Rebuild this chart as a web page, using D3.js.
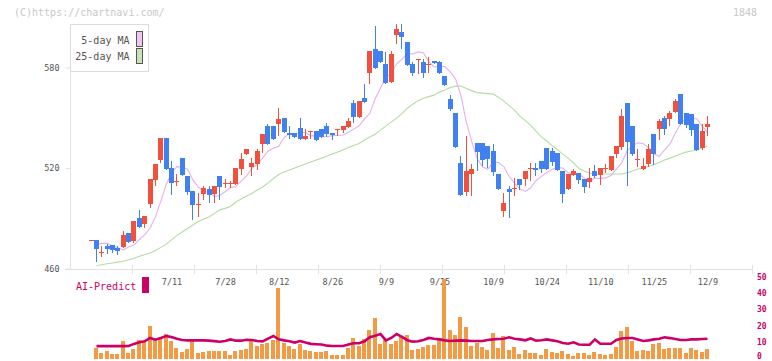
<!DOCTYPE html>
<html><head><meta charset="utf-8">
<script src="https://cdn.jsdelivr.net/npm/d3@7"></script>
<style>
html,body{margin:0;padding:0;background:#fff;}
svg{display:block;}
text{font-family:"DejaVu Sans Mono","Liberation Mono",monospace;}
</style></head><body>
<svg id="c" width="772" height="361"></svg>
<script>
// ---- data (index 0 = 7/11; first candle is index -15) ----
const firstIndex = -15;
const tickIndex = [0,10,20,30,40,50,60,70,80,90,100];
const tickLabels = ["7/11","7/28","8/12","8/26","9/9","9/25","10/9","10/24","11/10","11/25","12/9"];
const priceTicks = [460,520,580];
const volTicks = [0,10,20,30,40,50];

const open = [477.1,477.1,470.0,473.5,474.1,472.5,473.1,481.1,476.7,490.0,
486.8,498.7,512.8,524.8,537.9,520.0,512.0,525.9,515.2,506.3,
498.7,504.5,507.5,504.5,515.2,510.3,511.2,510.6,519.4,528.3,
520.6,522.4,534.3,545.0,545.0,546.2,549.8,540.8,540.8,543.8,
537.3,542.0,542.0,543.2,545.0,540.8,543.2,542.6,544.4,558.7,
550.3,561.7,576.6,590.9,589.7,582.0,571.2,599.2,601.0,595.1,
582.0,585.0,583.2,582.0,583.8,583.2,574.8,561.0,552.7,523.0,
505.7,516.4,534.9,534.9,533.0,530.1,516.4,494.4,507.5,508.0,
513.4,513.4,520.0,520.0,524.2,531.9,530.1,528.9,518.2,507.5,
515.8,517.0,513.4,511.6,518.2,515.8,520.0,518.8,528.3,532.4,
558.7,545.0,525.3,519.4,522.4,540.2,543.2,549.8,549.2,553.4,
564.1,552.7,552.1,546.2,531.9,544.4];

const close = [477.1,471.9,470.0,471.9,471.1,470.7,480.1,476.1,488.4,485.0,
491.2,513.4,522.4,537.9,519.6,510.9,512.0,516.0,505.9,498.1,
498.7,508.0,504.1,509.3,508.7,511.2,511.2,520.0,525.3,531.3,
523.0,530.1,540.2,534.3,537.3,549.2,541.4,539.7,538.5,537.3,
539.1,542.0,536.7,538.5,540.2,539.7,543.2,545.0,548.0,550.3,
559.9,559.3,589.7,579.6,583.2,570.6,587.9,602.8,598.0,581.4,
576.6,585.0,576.6,582.0,582.6,576.6,569.4,555.1,532.7,503.9,
518.2,519.4,529.5,524.8,525.3,517.6,507.5,499.1,505.7,508.0,
509.9,518.2,520.0,518.8,519.4,519.4,523.6,518.8,504.5,516.4,
518.2,512.8,508.7,514.0,515.2,520.0,520.0,527.1,533.0,550.9,
535.5,528.3,525.3,521.2,531.3,528.3,548.0,543.2,552.7,559.9,
546.2,545.6,542.6,530.7,542.0,546.2];

const high = [477.1,477.1,473.5,474.5,474.1,473.5,482.4,481.1,488.4,495.0,
491.2,513.4,522.4,537.9,537.9,524.2,516.4,525.9,515.2,506.3,
504.9,509.3,509.3,509.3,515.2,513.4,512.2,520.0,528.9,531.3,
526.0,531.3,540.2,546.2,545.0,555.7,549.8,545.0,540.8,549.8,
543.2,542.0,542.0,543.2,546.8,540.8,543.2,545.0,549.8,560.5,
559.9,570.0,589.7,604.6,589.7,589.1,589.7,605.8,605.8,595.1,
583.2,585.0,585.0,586.1,583.8,584.0,574.8,563.5,552.7,527.1,
539.1,522.4,534.9,534.9,533.0,534.3,516.4,505.1,509.3,514.0,
513.4,518.2,523.0,523.0,524.2,531.9,531.9,528.9,518.2,516.4,
519.4,517.0,513.4,520.0,521.8,520.0,522.4,527.1,533.0,555.1,
558.7,545.0,531.3,526.0,534.3,540.2,549.2,551.0,554.0,561.1,
564.1,552.7,552.1,546.2,546.2,550.9];

const low = [477.1,464.7,467.2,469.5,470.0,468.9,473.1,476.1,476.1,485.0,
485.0,496.9,509.9,523.6,519.6,504.5,509.9,516.0,504.5,489.6,
491.4,501.3,499.7,499.7,501.7,508.7,508.7,510.6,516.4,528.3,
516.0,519.4,529.5,534.3,537.3,539.7,541.4,537.9,538.5,537.3,
537.3,537.9,536.7,538.5,539.1,537.3,539.7,541.4,544.4,547.3,
550.3,559.3,570.6,579.6,583.2,570.6,571.2,594.5,591.5,581.4,
575.4,576.6,574.2,577.2,582.6,576.6,569.4,554.5,532.7,503.9,
503.9,503.9,518.8,521.8,520.6,515.8,507.5,491.4,490.8,503.9,
507.5,509.9,512.8,515.8,517.6,519.4,521.8,518.8,499.7,507.5,
515.8,511.0,505.7,508.7,514.6,510.4,517.6,518.8,526.5,531.3,
509.9,527.7,521.2,519.4,521.2,522.4,537.3,540.2,545.6,553.4,
546.2,544.4,539.7,530.7,531.3,539.7];

const ma5 = [null,474.4,475.0,475.0,473.4,472.4,471.1,472.8,474.0,477.3,
480.1,484.2,490.8,500.1,510.0,516.9,520.8,520.6,519.3,512.9,
508.6,506.1,505.3,503.0,503.6,505.8,508.3,508.9,512.1,515.3,
519.8,522.2,525.9,530.0,531.8,533.0,538.2,540.5,540.4,541.2,
541.2,539.2,539.3,538.7,538.7,539.3,539.4,539.7,541.3,543.2,
545.2,549.3,552.5,561.4,567.8,574.3,576.5,582.2,584.8,588.5,
588.1,589.3,588.8,583.5,580.3,580.6,580.6,577.4,573.1,563.3,
547.5,535.9,525.9,520.7,519.2,523.4,523.3,520.9,514.9,511.0,
507.6,506.0,508.2,512.4,515.0,517.3,519.2,520.2,520.0,517.1,
516.5,516.3,514.1,512.1,514.0,513.8,514.1,515.6,519.3,523.1,
530.2,533.3,535.0,534.6,532.2,528.3,526.9,530.8,534.4,540.7,
546.4,550.0,549.5,549.4,545.0,541.4];

const ma25 = [null,461.6,462.2,462.8,463.3,463.8,464.3,465.2,466.1,467.3,
468.2,469.3,470.8,472.6,474.4,477.1,479.8,481.8,483.9,486.0,
488.1,489.6,490.8,492.9,495.0,495.9,497.0,499.7,501.5,503.3,
504.8,506.9,508.7,511.1,513.7,516.1,517.6,518.8,520.0,521.2,
522.4,523.6,524.8,525.9,527.1,528.3,529.5,530.7,532.2,533.4,
534.6,536.7,538.5,540.2,542.6,545.0,547.4,549.8,552.5,555.7,
558.1,560.2,561.7,562.6,563.5,565.3,566.5,568.0,568.9,568.9,
567.4,566.2,565.0,564.7,564.4,564.1,562.3,559.9,557.2,554.6,
551.0,548.3,545.6,542.0,538.6,536.1,533.4,531.0,528.3,525.9,
523.0,519.7,518.2,517.0,516.5,516.4,516.4,516.4,516.4,516.4,
517.1,518.2,519.4,520.0,520.9,522.1,523.3,524.8,525.9,527.1,
528.3,529.5,530.1,530.7,531.9,533.1];

const volume = [null,6.6,3.5,4.8,2.9,2.9,11.0,3.5,6.0,11.6,
10.4,20.3,11.6,12.2,15.3,11.0,6.6,4.2,6.0,11.0,
3.5,4.2,4.8,4.8,4.8,4.7,2.2,4.7,5.3,5.9,
10.9,7.8,9.0,9.6,11.5,43.8,9.6,7.8,5.9,9.0,
5.3,4.7,4.0,4.0,4.7,2.2,2.2,2.2,6.5,12.7,
7.8,12.1,17.6,25.3,9.1,11.6,9.1,11.0,13.5,14.7,
5.4,6.0,7.3,8.5,8.5,11.6,49.7,17.8,14.7,25.9,
19.7,7.9,9.8,7.3,5.4,16.0,6.7,14.1,5.4,7.3,
2.9,5.4,3.5,3.5,2.3,6.0,4.2,3.5,4.8,2.9,
1.7,3.5,3.5,2.3,4.2,2.9,2.3,2.9,7.3,17.2,
19.7,11.0,4.8,5.4,4.8,9.1,9.8,6.0,6.7,6.7,
6.7,3.5,6.7,5.4,4.2,6.0];

const aiPredict = [null,7.8,7.8,7.8,7.8,7.8,7.8,7.9,9.2,10.2,
10.8,12.9,11.8,12.9,14.1,13.4,12.4,11.6,11.4,11.4,
11.4,11.4,11.2,10.9,10.5,11.0,12.0,11.2,11.2,11.8,
11.6,11.0,10.8,12.5,14.1,12.0,11.4,10.8,10.0,11.0,
10.0,9.2,9.0,8.8,8.1,7.9,7.9,7.9,8.8,9.6,
9.6,10.8,13.3,14.3,15.3,11.4,12.9,15.3,13.6,11.5,
10.6,10.8,11.6,12.9,12.4,12.0,11.4,11.0,11.2,11.4,
11.2,11.0,11.0,11.0,11.6,12.0,12.2,12.4,13.3,12.4,
12.0,11.4,12.6,11.2,11.5,12.0,11.4,10.8,9.8,9.3,
10.2,8.8,8.7,8.7,12.0,9.3,9.3,9.3,11.6,12.6,
12.9,12.9,12.0,11.0,11.4,12.0,12.4,13.3,12.8,12.2,
11.6,11.6,12.0,12.0,12.2,12.4];

// ---- styles ----
const C = {up:"#f0503c", down:"#4080f0", ma5:"#e4b0ec", ma25:"#b4dca4",
  vol:"#f39a45", ai:"#cc0066", axis:"#e2e2e2", label:"#555", faint:"#c8c8c8"};

const svg = d3.select("#c");
const plotL = 70, plotR = 752, axisY = 269;

const x = d3.scaleLinear().domain([0,100]).range([171.5,707.5]);
const y = d3.scaleLinear().domain([460,580]).range([268.5,67.5]);
const vy = d3.scaleLinear().domain([0,50]).range([358.7,278.2]);

const rows = open.map((o,k)=>({i:firstIndex+k,o,c:close[k],h:high[k],l:low[k],
  m5:ma5[k],m25:ma25[k],v:volume[k],ai:aiPredict[k]}));
const left = d => Math.round(x(d.i)-2.5);

// watermark & code
svg.append("text").attr("x",14).attr("y",16).attr("font-size",10).attr("fill",C.faint)
  .text("(C)https://chartnavi.com/");
svg.append("text").attr("x",757).attr("y",16).attr("font-size",10).attr("fill",C.faint)
  .attr("text-anchor","end").text("1848");

// frame lines
svg.append("line").attr("x1",plotL+0.5).attr("x2",plotL+0.5).attr("y1",24).attr("y2",axisY+0.5)
  .attr("stroke",C.axis);
svg.append("line").attr("x1",65).attr("x2",plotR+1).attr("y1",axisY+0.5).attr("y2",axisY+0.5)
  .attr("stroke",C.axis);
svg.append("g").selectAll("line").data(d3.range(1,12)).join("line")
  .attr("x1",k=>plotL+k*(plotR-plotL)/11+0.5).attr("x2",k=>plotL+k*(plotR-plotL)/11+0.5)
  .attr("y1",265).attr("y2",274).attr("stroke",C.axis);

// price axis
const ya = svg.append("g").attr("transform",`translate(${plotL+0.5},0)`)
  .call(d3.axisLeft(y).tickValues(priceTicks).tickSize(5).tickPadding(6));
ya.select(".domain").remove();
ya.selectAll("line").attr("stroke",C.axis);
ya.selectAll("text").attr("font-family","DejaVu Sans Mono").attr("font-size",8.5)
  .attr("fill",C.label).attr("dy","0.34em");

// date labels
const xa = svg.append("g").attr("transform",`translate(0,276)`)
  .call(d3.axisBottom(x).tickValues(tickIndex).tickFormat((d,k)=>tickLabels[k]).tickSize(0).tickPadding(0));
xa.select(".domain").remove();
xa.selectAll("text").attr("font-family","DejaVu Sans Mono").attr("font-size",8.5)
  .attr("fill",C.label).attr("dy","0").attr("y",9.3);

// MA lines
const lineMA = key => d3.line().defined(d=>d[key]!=null).x(d=>x(d.i)).y(d=>y(d[key]));
svg.append("path").datum(rows).attr("d",lineMA("m25")).attr("fill","none")
  .attr("stroke",C.ma25).attr("stroke-width",1.1);
svg.append("path").datum(rows).attr("d",lineMA("m5")).attr("fill","none")
  .attr("stroke",C.ma5).attr("stroke-width",1.1);

// candles
const cg = svg.append("g").attr("shape-rendering","crispEdges");
cg.selectAll("line").data(rows).join("line")
  .attr("x1",d=>left(d)+2.5).attr("x2",d=>left(d)+2.5)
  .attr("y1",d=>Math.round(y(d.h))).attr("y2",d=>Math.round(y(d.l))+1)
  .attr("stroke",d=>d.c>=d.o?C.up:C.down).attr("stroke-width",1);
cg.selectAll("rect").data(rows).join("rect")
  .attr("x",d=>left(d)).attr("width",5)
  .attr("y",d=>Math.round(y(Math.max(d.o,d.c))))
  .attr("height",d=>Math.max(1,Math.round(y(Math.min(d.o,d.c)))-Math.round(y(Math.max(d.o,d.c)))))
  .attr("fill",d=>d.c>=d.o?C.up:C.down);

// legend
const lg = svg.append("g");
lg.append("rect").attr("x",70.5).attr("y",24.5).attr("width",78).attr("height",47)
  .attr("fill","#fff").attr("stroke","#dcdcdc");
[["5-day MA","#f2c4f2",44,31.5],["25-day MA","#c4e4b4",60,48.5]].forEach(([t,col,ty,ry])=>{
  lg.append("text").attr("x",129.5).attr("y",ty).attr("text-anchor","end")
    .attr("font-size",10).attr("fill",C.label).text(t);
  lg.append("rect").attr("x",136.5).attr("y",ry).attr("width",6).attr("height",15)
    .attr("fill",col).attr("stroke","#555");
});

// AI-Predict panel
svg.append("text").attr("x",76).attr("y",289.5).attr("font-size",10).attr("fill",C.ai).text("AI-Predict");
svg.append("rect").attr("x",142).attr("y",277).attr("width",7).attr("height",16).attr("fill",C.ai);

const va = svg.append("g").attr("transform","translate(757,0)")
  .call(d3.axisRight(vy).tickValues(volTicks).tickSize(0).tickPadding(0));
va.select(".domain").remove();
va.selectAll("text").attr("font-family","DejaVu Sans Mono").attr("font-size",8)
  .attr("font-weight","bold").attr("fill",C.ai)
  .attr("y",d=>d===0?-3.4:-1.2).attr("dy","0.34em");

svg.append("g").attr("shape-rendering","crispEdges").selectAll("rect")
  .data(rows.filter(d=>d.v!=null)).join("rect")
  .attr("x",d=>left(d)).attr("width",4)
  .attr("y",d=>Math.round(vy(d.v))).attr("height",d=>Math.round(vy(0))-Math.round(vy(d.v)))
  .attr("fill",C.vol);

svg.append("path").datum(rows)
  .attr("d",d3.line().defined(d=>d.ai!=null).x(d=>x(d.i)).y(d=>vy(d.ai)))
  .attr("fill","none").attr("stroke",C.ai).attr("stroke-width",2.6);
</script>
</body></html>
